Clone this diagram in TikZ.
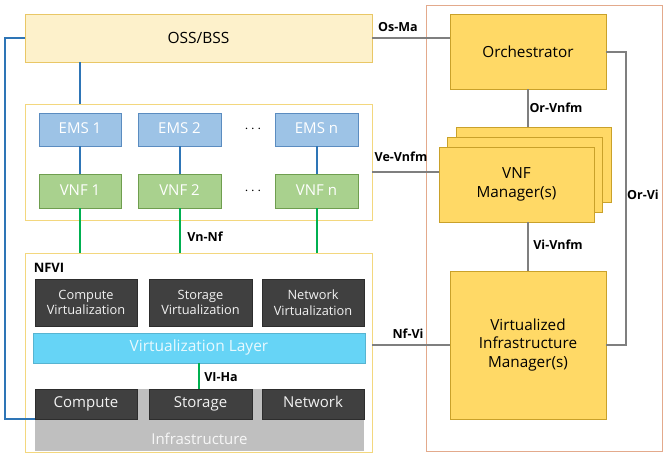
\documentclass[tikz,border=0pt]{standalone}
\usepackage{fontspec}
\setmainfont{Open Sans}
\begin{document}
\definecolor{ossfill}{HTML}{FDF1CB}
\definecolor{ossline}{HTML}{E9C766}
\definecolor{contline}{HTML}{F3D77E}
\definecolor{emsfill}{HTML}{9DC3E6}
\definecolor{emsline}{HTML}{5B8CC0}
\definecolor{vnffill}{HTML}{A9D18E}
\definecolor{vnfline}{HTML}{6F9E4F}
\definecolor{darkfill}{HTML}{404040}
\definecolor{vlfill}{HTML}{66D4F6}
\definecolor{infrafill}{HTML}{BFBFBF}
\definecolor{manofill}{HTML}{FFD966}
\definecolor{manoline}{HTML}{C9A12A}
\definecolor{manoframe}{HTML}{E3AA8C}
\definecolor{ifgray}{HTML}{7F7F7F}
\definecolor{ifblue}{HTML}{2E75B6}
\definecolor{ifgreen}{HTML}{00B050}
\begin{tikzpicture}[x=1pt,y=1pt,
  box/.style={draw,line width=0.8pt,inner sep=0pt,align=center},
  ossbox/.style={box,fill=ossfill,draw=ossline,font=\fontsize{15.5}{18}\selectfont},
  container/.style={box,fill=white,draw=contline},
  emsbox/.style={box,fill=emsfill,draw=emsline,text=white,font=\fontsize{15}{17}\selectfont,text height=11pt,text depth=3pt},
  vnfbox/.style={box,fill=vnffill,draw=vnfline,text=white,font=\fontsize{15}{17}\selectfont,text height=11pt,text depth=3pt},
  darkbox/.style={box,fill=darkfill,draw=darkfill!70!black,text=white!95!black,font=\fontsize{12.8}{15.5}\selectfont},
  hwbox/.style={darkbox,font=\fontsize{15}{17}\selectfont,text height=11pt,text depth=3.5pt},
  manobox/.style={box,fill=manofill,draw=manoline,font=\fontsize{15.3}{18.5}\selectfont},
  iface/.style={font=\bfseries\fontsize{12.5}{14}\selectfont},
  grayline/.style={draw=ifgray,line width=2pt},
  blueline/.style={draw=ifblue,line width=2pt},
  greenline/.style={draw=ifgreen,line width=2pt},
  dots/.style={font=\fontsize{14}{16}\selectfont}
]
\useasboundingbox[fill=white] (0,0) rectangle (664,-456);

% MANO frame
\draw[manoframe,line width=0.8pt] (426,-5) rectangle (662,-451);

% OSS/BSS
\node[ossbox,minimum width=347pt,minimum height=48pt] (oss) at (198.5,-38) {OSS/BSS};

% EMS / VNF container
\node[container,minimum width=347pt,minimum height=116pt] (vnfc) at (198.5,-162) {};
\node[emsbox,minimum width=82pt,minimum height=33pt] (ems1) at (80,-129.5) {EMS 1};
\node[emsbox,minimum width=83pt,minimum height=33pt] (ems2) at (179.5,-129.5) {EMS 2};
\node[emsbox,minimum width=83pt,minimum height=33pt] (emsn) at (316.5,-129.5) {EMS n};
\node[vnfbox,minimum width=82pt,minimum height=34pt] (vnf1) at (80,-191) {VNF 1};
\node[vnfbox,minimum width=83pt,minimum height=34pt] (vnf2) at (179.5,-191) {VNF 2};
\node[vnfbox,minimum width=83pt,minimum height=34pt] (vnfn) at (316.5,-191) {VNF n};
\node[dots] (dotsems) at (253,-129) {$\cdots$};
\node[dots] (dotsvnf) at (253,-191) {$\cdots$};

% NFVI
\node[container,minimum width=347pt,minimum height=199pt] (nfvi) at (198.5,-352.5) {};
\node[font=\bfseries\fontsize{13}{15}\selectfont] (nfvilabel) at (49,-268) {NFVI};
\node[darkbox,minimum width=102pt,minimum height=47pt] (cvirt) at (86,-302.5) {Compute\\Virtualization};
\node[darkbox,minimum width=103pt,minimum height=47pt] (svirt) at (200.5,-302.5) {Storage\\Virtualization};
\node[darkbox,minimum width=102pt,minimum height=47pt] (nvirt) at (313,-302.5) {Network\\Virtualization};
\node[box,fill=vlfill,draw=vlfill!85!black,text=white!85!vlfill,minimum width=332pt,minimum height=30pt,font=\fontsize{15.5}{18}\selectfont,text height=11pt,text depth=3.5pt] (vl) at (199,-348) {Virtualization Layer};
\node[box,fill=infrafill,draw=none,minimum width=329pt,minimum height=62pt] (infra) at (199.5,-420) {};
\node[text=white!88!infrafill,font=\fontsize{15}{17}\selectfont] (infratext) at (199.5,-439) {Infrastructure};
\node[hwbox,minimum width=102pt,minimum height=30pt] (compute) at (86,-404) {Compute};
\node[hwbox,minimum width=103pt,minimum height=30pt] (storage) at (200.5,-404) {Storage};
\node[hwbox,minimum width=102pt,minimum height=30pt] (network) at (313,-404) {Network};

% MANO blocks
\node[manobox,minimum width=156pt,minimum height=75pt] (orch) at (528,-51.5) {Orchestrator};
\node[manobox,minimum width=155pt,minimum height=75pt] (vnfmback) at (533.5,-164.5) {};
\node[manobox,minimum width=155pt,minimum height=75pt] (vnfmmid) at (524.5,-174.5) {};
\node[manobox,minimum width=155pt,minimum height=75pt] (vnfm) at (516.5,-184.5) {VNF\\Manager(s)};
\node[manobox,minimum width=156pt,minimum height=148pt] (vim) at (528,-345) {Virtualized\\Infrastructure\\Manager(s)};

% Blue management links
\draw[blueline] (oss.west) -- ++(-20,0) |- (compute.south west);
\draw[blueline] (oss.south -| ems1) -- (vnfc.north -| ems1);
\draw[blueline] (ems1) -- (vnf1);
\draw[blueline] (ems2) -- (vnf2);
\draw[blueline] (emsn) -- (vnfn);

% Green data-plane links
\draw[greenline] (vnf1.south) -- (vnf1.south |- nfvi.north);
\draw[greenline] (vnf2.south) -- (vnf2.south |- nfvi.north);
\draw[greenline] (vnfn.south) -- (vnfn.south |- nfvi.north);
\draw[greenline] (vl.south) -- (vl.south |- storage.north);

% Gray reference points
\draw[grayline] (oss.east) -- (oss.east -| orch.west);
\draw[grayline] (orch.south) -- (orch.south |- vnfmback.north);
\draw[grayline] ([yshift=12.5pt]vnfm.west) -- ([yshift=12.5pt]vnfm.west -| vnfc.east);
\draw[grayline] (vim.north) -- (vim.north |- vnfm.south);
\draw[grayline] (vim.west) -- (vim.west -| nfvi.east);
\draw[grayline] (orch.east) -- ++(20,0) |- (vim.east);

% Interface labels
\node[iface] (osma) at (398,-27) {Os-Ma};
\node[iface] (orvnfm) at (556,-108) {Or-Vnfm};
\node[iface] (vevnfm) at (401,-157) {Ve-Vnfm};
\node[iface] (vivnfm) at (558,-245) {Vi-Vnfm};
\node[iface] (nfvi-if) at (408,-334) {Nf-Vi};
\node[iface] (orvi) at (643,-195) {Or-Vi};
\node[iface] (vnnf) at (205,-237) {Vn-Nf};
\node[iface] (viha) at (221,-377) {VI-Ha};
\end{tikzpicture}
\end{document}
